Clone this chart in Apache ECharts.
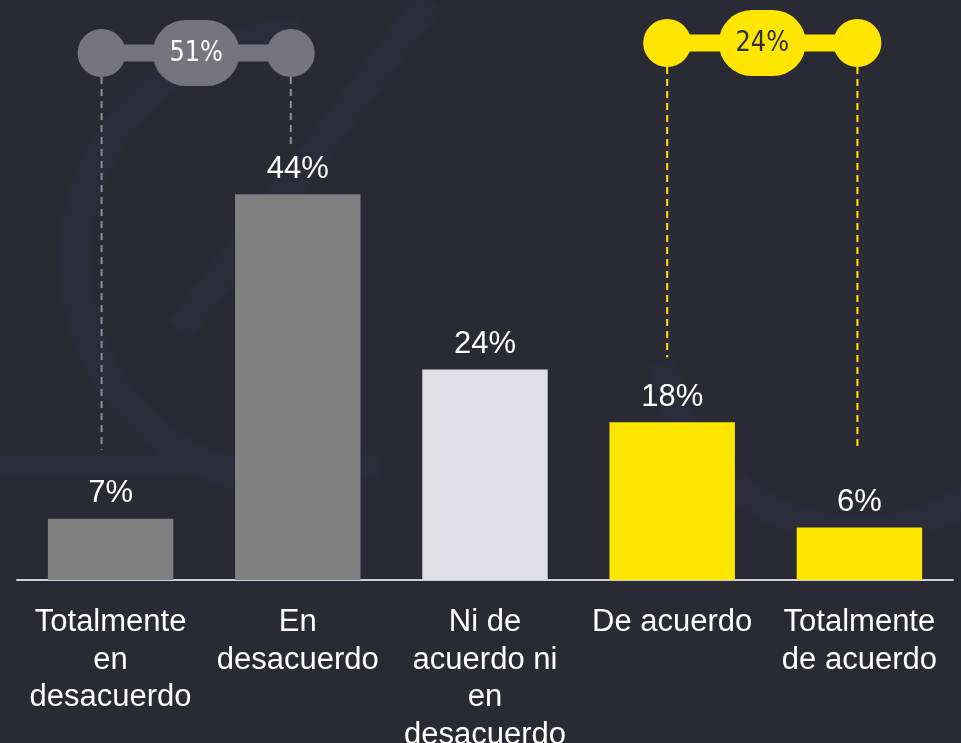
<!DOCTYPE html>
<html>
<head>
<meta charset="utf-8">
<script src="https://cdn.jsdelivr.net/npm/echarts@6/dist/echarts.min.js"></script>
<style>
  html, body { margin: 0; padding: 0; background: #2a2a34; }
  #chart { width: 961px; height: 743px; }
</style>
</head>
<body>
<div id="chart"></div>
<script>
var categories = ['Totalmente\nen\ndesacuerdo', 'En\ndesacuerdo', 'Ni de\nacuerdo ni\nen\ndesacuerdo', 'De acuerdo', 'Totalmente\nde acuerdo'];
var values = [7, 44, 24, 18, 6];
var barColors = ['#808080', '#808080', '#e1e0e6', '#ffe600', '#ffe600'];
// totals shown in the top brackets (sum of the two bars below each)
var groupBars = [[0, 1], [3, 4]];
var groupLabels = ['51%', '24%'];

(function() {
  var myChart = echarts.init(document.getElementById('chart'));

  var option = {
    backgroundColor: '#2a2a34',
    animation: false,
    grid: { left: 17, right: 8, top: 54, bottom: 163, outerBoundsMode: 'none', containLabel: false },
    xAxis: {
      type: 'category',
      data: categories,
      axisLine: { lineStyle: { color: '#d0d0d4', width: 2 } },
      axisTick: { show: false },
      axisLabel: {
        interval: 0,
        color: '#ffffff',
        fontFamily: 'Liberation Sans, Arial',
        fontSize: 31,
        lineHeight: 37.5,
        margin: 24
      }
    },
    yAxis: {
      type: 'value',
      min: 0,
      max: 60,
      show: false
    },
    series: [{
      type: 'bar',
      barWidth: '67%',
      data: values.map(function(v, i) {
        return { value: v, itemStyle: { color: barColors[i] } };
      }),
      label: {
        show: true,
        position: 'top',
        distance: 10,
        color: '#ffffff',
        fontFamily: 'Liberation Sans, Arial',
        fontSize: 31,
        lineHeight: 30,
        formatter: '{c}%'
      }
    }]
  };
  myChart.setOption(option);

  // bracket styling
  var groupStyle = [
    { fill: '#75747f', dash: '#8d8c97', text: '#ffffff', cy: 53, dx: [-9, -7], gap: [69, 49] },
    { fill: '#ffe600', dash: '#ffe600', text: '#2e2e38', cy: 43, dx: [-5, -2], gap: [65, 78] }
  ];

  var faint = 'rgba(45,58,85,0.16)';
  var graphics = [
    // faint background strokes
    { type: 'arc', silent: true, z: 0, shape: { cx: 300, cy: 260, r: 225, startAngle: Math.PI * 0.5, endAngle: Math.PI * 1.5 },
      style: { stroke: faint, lineWidth: 32, fill: null } },
    { type: 'line', silent: true, z: 0, shape: { x1: 180, y1: 330, x2: 430, y2: 0 },
      style: { stroke: faint, lineWidth: 30 } },
    { type: 'arc', silent: true, z: 0, shape: { cx: 860, cy: 330, r: 200, startAngle: Math.PI * 0.08, endAngle: Math.PI * 0.95 },
      style: { stroke: faint, lineWidth: 30, fill: null } },
    { type: 'rect', silent: true, z: 0, shape: { x: 0, y: 455, width: 380, height: 22 },
      style: { fill: faint } }
  ];

  groupBars.forEach(function(pair, g) {
    var st = groupStyle[g];
    var xs = pair.map(function(idx, k) {
      return myChart.convertToPixel({ xAxisIndex: 0 }, categories[idx]) + st.dx[k];
    });
    var mid = (xs[0] + xs[1]) / 2;
    pair.forEach(function(idx, k) {
      var top = myChart.convertToPixel({ yAxisIndex: 0 }, values[idx]);
      graphics.push({
        type: 'line', silent: true, z: 5,
        shape: { x1: xs[k], y1: st.cy + 24, x2: xs[k], y2: top - st.gap[k] },
        style: { stroke: st.dash, lineWidth: 2, lineDash: [7, 5] }
      });
    });
    graphics.push({
      type: 'rect', silent: true, z: 6,
      shape: { x: xs[0], y: st.cy - 8.5, width: xs[1] - xs[0], height: 17 },
      style: { fill: st.fill }
    });
    xs.forEach(function(x) {
      graphics.push({
        type: 'circle', silent: true, z: 6,
        shape: { cx: x, cy: st.cy, r: 24 },
        style: { fill: st.fill }
      });
    });
    graphics.push({
      type: 'rect', silent: true, z: 7,
      shape: { x: mid - 43.5, y: st.cy - 33, width: 87, height: 66, r: 33 },
      style: { fill: st.fill }
    });
    graphics.push({
      type: 'text', silent: true, z: 8,
      x: mid, y: st.cy + 1, scaleX: 0.86,
      style: {
        text: groupLabels[g],
        fill: st.text,
        font: '28px "DejaVu Sans"',
        textAlign: 'center',
        textVerticalAlign: 'middle'
      }
    });
  });

  myChart.setOption({ graphic: graphics });
})();
</script>
</body>
</html>
